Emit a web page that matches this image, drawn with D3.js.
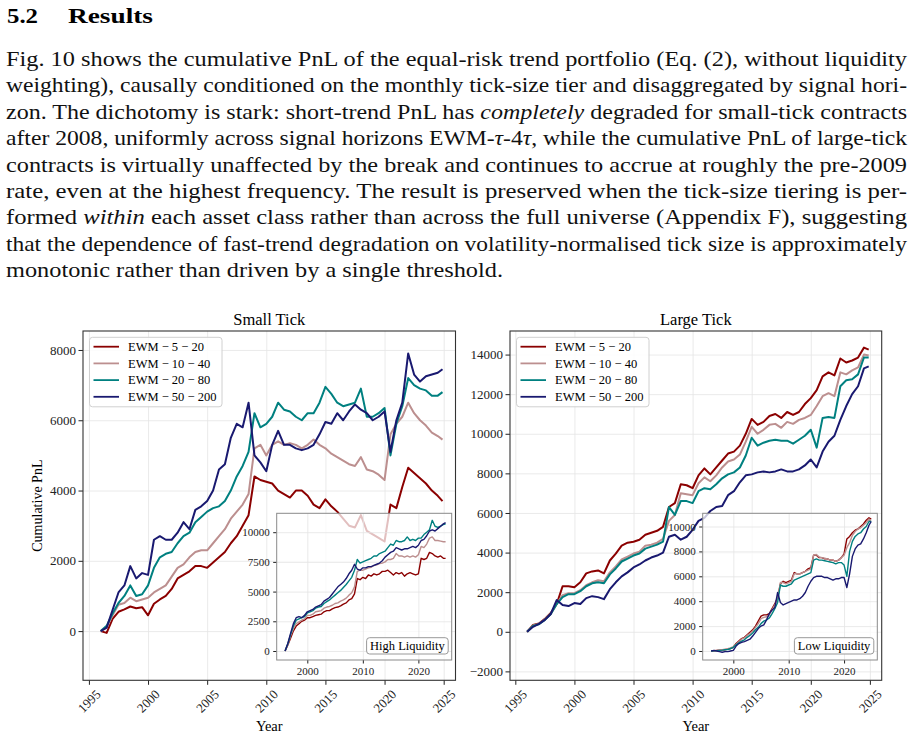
<!DOCTYPE html>
<html>
<head>
<meta charset="utf-8">
<script src="https://cdn.jsdelivr.net/npm/d3@7"></script>
<style>
  body { margin: 0; background: #fff; }
  svg { display: block; }
  .grid line { stroke: #e4e4e4; stroke-width: 0.8; }
  .grid .domain { display: none; }
</style>
</head>
<body>
<div id="page"></div>
<script>
// half-yearly sampling of the cumulative PnL curves
var years = [1996, 1996.5, 1997, 1997.5, 1998, 1998.5, 1999, 1999.5, 2000, 2000.5,
  2001, 2001.5, 2002, 2002.5, 2003, 2003.5, 2004, 2004.5, 2005, 2005.5,
  2006, 2006.5, 2007, 2007.5, 2008, 2008.5, 2009, 2009.5, 2010, 2010.5,
  2011, 2011.5, 2012, 2012.5, 2013, 2013.5, 2014, 2014.5, 2015, 2015.5,
  2016, 2016.5, 2017, 2017.5, 2018, 2018.5, 2019, 2019.5, 2020, 2020.5,
  2021, 2021.5, 2022, 2022.5, 2023, 2023.5, 2024, 2024.5, 2024.9];

// Small Tick (main panel)
var smallEwm5 = [0, -50, 350, 550, 620, 700, 650, 680, 450, 780,
  900, 1000, 1200, 1500, 1600, 1700, 1850, 1850, 1800, 1950,
  2100, 2250, 2500, 2700, 3000, 3300, 4400, 4300, 4250, 4200,
  4000, 3900, 3800, 4000, 4000, 3850, 3600, 3500, 3750, 3550,
  3400, 3200, 3000, 2950, 3300, 2850, 2750, 2650, 2550, 3600,
  3500, 4100, 4650, 4500, 4350, 4200, 4000, 3850, 3700];
var smallEwm10 = [0, 100, 450, 750, 800, 950, 850, 900, 950, 1100,
  1200, 1300, 1550, 1800, 1900, 2100, 2250, 2300, 2300, 2500,
  2700, 2900, 3200, 3400, 3600, 3900, 5200, 5300, 5000, 5300,
  5400, 5300, 5350, 5300, 5200, 5300, 5450, 5300, 5200, 5050,
  4950, 4850, 4750, 4700, 4950, 4600, 4550, 4450, 4300, 5600,
  5900, 6100, 6500, 6200, 6000, 5850, 5650, 5550, 5450];
var smallEwm20 = [0, 150, 500, 800, 1000, 1300, 1000, 1050, 1300, 1800,
  2100, 2200, 2250, 2500, 2700, 2800, 3100, 3250, 3400, 3500,
  3550, 3700, 4000, 4400, 4700, 5100, 6200, 5800, 5900, 6100,
  6500, 6300, 6250, 6100, 6000, 6200, 6200, 6500, 6950, 6750,
  6500, 6400, 6450, 6500, 6900, 6100, 6100, 6200, 6350, 5000,
  5900, 6400, 7200, 7000, 6900, 6850, 6700, 6700, 6800];
var smallEwm50 = [0, 100, 600, 1100, 1300, 1850, 1500, 1650, 1600, 2600,
  2700, 2600, 2600, 2800, 3100, 2900, 3450, 3550, 3700, 4000,
  4600, 4750, 5500, 5900, 5800, 6500, 5000, 4800, 4550, 5300,
  5700, 5300, 5300, 5200, 5150, 5200, 5300, 5600, 5950, 5900,
  6200, 6000, 6250, 6450, 6300, 6200, 6000, 6100, 6250, 5100,
  6000, 6500, 7900, 7300, 7100, 7250, 7300, 7350, 7450];

// Large Tick (main panel)
var largeEwm5 = [0, 350, 420, 650, 950, 1400, 2300, 2300, 2250, 2500,
  2950, 3050, 3100, 2950, 3600, 3950, 4350, 4500, 4550, 4650,
  4900, 5000, 5100, 5300, 6300, 6500, 7450, 7400, 7250, 7900,
  8250, 7950, 8300, 8650, 9000, 9100, 9400, 10000, 10750, 10450,
  10600, 10900, 11000, 10800, 11100, 10950, 11100, 11500, 11800, 12200,
  12900, 13100, 12950, 13800, 13600, 13700, 13850, 14350, 14250];
var largeEwm10 = [0, 320, 400, 620, 900, 1400, 1850, 1950, 1950, 2100,
  2350, 2500, 2600, 2550, 3000, 3300, 3650, 3800, 3950, 4050,
  4350, 4400, 4500, 4700, 5600, 5900, 7000, 6950, 6900, 7500,
  7800, 7600, 7900, 8300, 8600, 8700, 8950, 9600, 10350, 10000,
  10200, 10450, 10500, 10300, 10600, 10500, 10700, 10800, 10950, 11400,
  11900, 12050, 11900, 13100, 13000, 13200, 13350, 14000, 13950];
var largeEwm20 = [0, 300, 380, 600, 900, 1400, 1750, 1900, 1900, 2050,
  2300, 2450, 2500, 2450, 2900, 3200, 3550, 3700, 3850, 3950,
  4200, 4300, 4400, 4550, 6300, 5900, 6600, 6600, 6500, 7100,
  7250, 7200, 7450, 7750, 7950, 8050, 8300, 8900, 9800, 9400,
  9550, 9650, 9700, 9650, 9650, 9500, 9700, 9900, 10200, 9300,
  10800, 10850, 10800, 12400, 12700, 12750, 13000, 13850, 13850];
var largeEwm50 = [0, 250, 400, 600, 900, 1600, 1350, 1300, 1450, 1400,
  1700, 1800, 1750, 1650, 2150, 2500, 2800, 3000, 3250, 3400,
  3600, 3750, 3850, 4000, 4800, 4900, 4650, 4800, 5150, 5600,
  5750, 6100, 6300, 6350, 6900, 7100, 7550, 7900, 7950, 8050,
  8100, 8050, 8100, 8200, 8100, 8100, 8200, 8400, 8700, 8300,
  9100, 9600, 9900, 10700, 11400, 12000, 12400, 13300, 13400];

// High Liquidity (inset, small tick)
var highEwm5 = [0, 500, 1100, 1700, 2100, 2300, 2500, 2600, 2800, 2800,
  2900, 3000, 3050, 3100, 3300, 3400, 3400, 3550, 3650, 3700,
  3800, 3950, 4050, 4300, 4400, 4800, 6100, 6000, 6200, 6100,
  6400, 6300, 6500, 6400, 6500, 6700, 6700, 6800, 6600, 6400,
  6600, 6500, 6600, 6300, 6500, 6600, 6500, 6400, 6500, 7800,
  7700, 7800, 8300, 8200, 8000, 7900, 8000, 7800, 7800];
var highEwm10 = [0, 550, 1300, 1900, 2300, 2450, 2600, 2700, 3000, 3000,
  3100, 3300, 3350, 3400, 3600, 3700, 3750, 3850, 4000, 4050,
  4200, 4300, 4450, 4700, 4900, 5400, 6700, 6800, 6800, 6900,
  7000, 7050, 7200, 7250, 7350, 7400, 7500, 7700, 7700, 7800,
  8200, 8000, 8000, 7900, 8000, 7900, 8000, 7900, 8100, 8800,
  8700, 9000, 9500, 9600, 9300, 9300, 9250, 9200, 9200];
var highEwm20 = [0, 600, 1400, 2100, 2600, 2700, 2800, 2900, 3200, 3300,
  3400, 3600, 3700, 3750, 4000, 4150, 4300, 4500, 4700, 4900,
  5100, 5350, 5600, 5900, 6200, 6800, 7700, 7400, 7500, 7600,
  7700, 7800, 8000, 8000, 8200, 8300, 8400, 8700, 9000, 8900,
  9300, 9200, 9200, 9300, 9600, 9300, 9400, 9300, 9500, 9500,
  9800, 10000, 10200, 11000, 10500, 10400, 10500, 10650, 10700];
var highEwm50 = [0, 650, 1500, 2300, 2800, 2900, 2800, 3000, 3300, 3400,
  3500, 3700, 3800, 3900, 4200, 4350, 4500, 4800, 5100, 5400,
  5600, 5800, 6100, 6500, 6800, 7300, 6900, 6800, 7000, 7000,
  7100, 7100, 7200, 7300, 7400, 7600, 7900, 8100, 8300, 8400,
  8700, 8600, 8500, 8600, 8600, 8700, 8800, 8700, 8900, 9300,
  9400, 9700, 10100, 10200, 10100, 10300, 10500, 10700, 10800];

// Low Liquidity (inset, large tick)
var lowEwm5 = [0, 20, 40, 60, 80, 100, 150, 200, 300, 600,
  800, 1000, 1100, 1300, 1500, 1700, 2000, 2400, 2800, 2900,
  2900, 3000, 3400, 3800, 4300, 5400, 5600, 5500, 5600, 5700,
  6300, 6200, 6200, 6300, 6400, 6600, 6700, 7700, 7700, 7500,
  7500, 7400, 7400, 7300, 7300, 7200, 7300, 7500, 7800, 9000,
  9200, 9500, 9700, 9800, 10000, 10200, 10500, 10700, 10600];
var lowEwm10 = [0, 30, 50, 80, 100, 150, 180, 250, 350, 550,
  750, 950, 1050, 1250, 1400, 1600, 1900, 2200, 2600, 2700,
  2750, 2900, 3300, 3700, 4200, 5500, 5500, 5400, 5500, 5600,
  6200, 6200, 6200, 6300, 6400, 6500, 6600, 7700, 7750, 7550,
  7500, 7450, 7400, 7300, 7300, 7200, 7300, 7500, 7700, 8300,
  8700, 9300, 9600, 9800, 9900, 10100, 10300, 10600, 10500];
var lowEwm20 = [0, 20, 30, 50, 70, 100, 120, 200, 300, 500,
  650, 800, 900, 1100, 1250, 1450, 1700, 1900, 2200, 2400,
  2500, 2650, 3000, 3400, 3900, 5300, 5200, 5200, 5300, 5400,
  5700, 5800, 5900, 6000, 6100, 6200, 6300, 7300, 7400, 7300,
  7300, 7250, 7200, 7150, 7100, 7000, 7100, 7100, 6900, 6000,
  8000, 8800, 9200, 9400, 9500, 9800, 10000, 10400, 10400];
var lowEwm50 = [0, 50, 0, -50, -100, -50, -50, 0, 50, 400,
  600, 700, 750, 850, 950, 1200, 1500, 1800, 2000, 2100,
  2500, 3000, 3300, 3500, 4700, 3900, 3700, 3800, 3900, 4000,
  4100, 4100, 4200, 4400, 4700, 5200, 5600, 5900, 6000, 6000,
  6000, 5900, 5900, 5800, 5700, 5800, 5800, 5900, 5900, 5100,
  6200, 7600, 8200, 8500, 8600, 9000, 9500, 10100, 10400];

var seriesLabels = ['EWM \u2212 5 \u2212 20', 'EWM \u2212 10 \u2212 40', 'EWM \u2212 20 \u2212 80', 'EWM \u2212 50 \u2212 200'];
var seriesColors = ['#8b0000', '#bc8f8f', '#008080', '#191970'];

// tick labels
var yearTicks = [1995, 2000, 2005, 2010, 2015, 2020, 2025];
var insetYearTicks = [2000, 2010, 2020];
var smallTicks = [0, 2000, 4000, 6000, 8000];
var largeTicks = [-2000, 0, 2000, 4000, 6000, 8000, 10000, 12000, 14000];
var highLiqTicks = [0, 2500, 5000, 7500, 10000];
var lowLiqTicks = [0, 2000, 4000, 6000, 8000, 10000];

// section text
var paraLines = [
  [['Fig. 10 shows the cumulative PnL of the equal-risk trend portfolio (Eq. (2), without liquidity', 0]],
  [['weighting), causally conditioned on the monthly tick-size tier and disaggregated by signal hori-', 0]],
  [['zon. The dichotomy is stark: short-trend PnL has ', 0], ['completely', 1], [' degraded for small-tick contracts', 0]],
  [['after 2008, uniformly across signal horizons EWM-', 0], ['\u03c4', 1], ['-4', 0], ['\u03c4', 1], [', while the cumulative PnL of large-tick', 0]],
  [['contracts is virtually unaffected by the break and continues to accrue at roughly the pre-2009', 0]],
  [['rate, even at the highest frequency.  The result is preserved when the tick-size tiering is per-', 0]],
  [['formed ', 0], ['within', 1], [' each asset class rather than across the full universe (Appendix F), suggesting', 0]],
  [['that the dependence of fast-trend degradation on volatility-normalised tick size is approximately', 0]],
  [['monotonic rather than driven by a single threshold.', 0]]
];

var serif = '"Liberation Serif", "DejaVu Serif", serif';

var svg = d3.select('#page')
  .append('svg')
    .attr('width', 914)
    .attr('height', 738)
    .attr('font-family', serif);

// heading
svg.append('text').text('5.2')
  .attr('x', 7).attr('y', 22.7)
  .attr('font-size', 20.5).attr('font-weight', 'bold')
  .attr('textLength', 31).attr('lengthAdjust', 'spacingAndGlyphs');
svg.append('text').text('Results')
  .attr('x', 68).attr('y', 22.7)
  .attr('font-size', 20.5).attr('font-weight', 'bold')
  .attr('textLength', 85).attr('lengthAdjust', 'spacingAndGlyphs');

// justified paragraph
paraLines.forEach(function(line, i) {
  var t = svg.append('text')
    .attr('x', 6)
    .attr('y', 66 + i * 26.4)
    .attr('font-size', 21)
    .attr('fill', '#111');
  line.forEach(function(seg) {
    t.append('tspan').text(seg[0]).attr('font-style', seg[1] ? 'italic' : null);
  });
  t.attr('textLength', i < paraLines.length - 1 ? 901 : 497)
    .attr('lengthAdjust', 'spacingAndGlyphs');
});

function styleAxis(sel, size) {
  sel.attr('font-family', serif).attr('font-size', size).attr('color', '#222');
  sel.select('.domain').remove();
}

// main panel
function drawMain(cfg) {
  var x = d3.scaleLinear().domain(cfg.xDomain).range([cfg.left, cfg.right]);
  var y = d3.scaleLinear().domain(cfg.yDomain).range([cfg.bottom, cfg.top]);
  var w = cfg.right - cfg.left;
  var h = cfg.bottom - cfg.top;
  var g = svg.append('g');

  // grid
  g.append('g').attr('class', 'grid')
    .attr('transform', 'translate(0,' + cfg.bottom + ')')
    .call(d3.axisBottom(x).tickValues(yearTicks).tickSize(-h).tickFormat(''));
  g.append('g').attr('class', 'grid')
    .attr('transform', 'translate(' + cfg.left + ',0)')
    .call(d3.axisLeft(y).tickValues(cfg.yTicks).tickSize(-w).tickFormat(''));

  // one line per signal horizon
  var line = d3.line()
    .x(function(d, i) { return x(years[i]); })
    .y(function(d) { return y(d); });
  g.selectAll('.pnl')
    .data(cfg.series)
    .enter()
    .append('path')
      .attr('class', 'pnl')
      .attr('d', line)
      .attr('fill', 'none')
      .attr('stroke', function(d, i) { return seriesColors[i]; })
      .attr('stroke-width', 2)
      .attr('stroke-linejoin', 'round');

  // axes
  var xAxis = g.append('g')
    .attr('transform', 'translate(0,' + cfg.bottom + ')')
    .call(d3.axisBottom(x).tickValues(yearTicks).tickSize(4.5).tickFormat(d3.format('d')));
  styleAxis(xAxis, 13);
  xAxis.selectAll('text')
    .attr('y', 0)
    .attr('dy', '0.32em')
    .attr('text-anchor', 'middle')
    .attr('transform', 'translate(0,21) rotate(-45)');

  var yAxis = g.append('g')
    .attr('transform', 'translate(' + cfg.left + ',0)')
    .call(d3.axisLeft(y).tickValues(cfg.yTicks).tickSize(4.5).tickPadding(2.5).tickFormat(d3.format('d')));
  styleAxis(yAxis, 13);

  g.append('rect')
    .attr('x', cfg.left).attr('y', cfg.top)
    .attr('width', w).attr('height', h)
    .attr('fill', 'none').attr('stroke', '#333').attr('stroke-width', 1.1);

  // title and axis labels
  g.append('text').text(cfg.title)
    .attr('x', (cfg.left + cfg.right) / 2).attr('y', 325)
    .attr('text-anchor', 'middle').attr('font-size', 16.5);
  g.append('text').text('Year')
    .attr('x', (cfg.left + cfg.right) / 2).attr('y', 731)
    .attr('text-anchor', 'middle').attr('font-size', 14.5);
  if (cfg.yLabel) {
    g.append('text').text(cfg.yLabel)
      .attr('transform', 'translate(42,' + ((cfg.top + cfg.bottom) / 2) + ') rotate(-90)')
      .attr('text-anchor', 'middle').attr('font-size', 14);
  }

  // legend
  var lx = cfg.left + 6.5;
  var legend = g.append('g');
  legend.append('rect')
    .attr('x', lx).attr('y', 337.3)
    .attr('width', 132.5).attr('height', 69.5)
    .attr('rx', 3)
    .attr('fill', '#fff').attr('fill-opacity', 0.85)
    .attr('stroke', '#d0d0d0');
  var entry = legend.selectAll('.entry')
    .data(seriesLabels)
    .enter()
    .append('g')
      .attr('transform', function(d, i) { return 'translate(' + lx + ',' + (346.7 + i * 16.7) + ')'; });
  entry.append('line')
    .attr('x1', 4).attr('x2', 29.5)
    .attr('stroke', function(d, i) { return seriesColors[i]; })
    .attr('stroke-width', 1.8);
  entry.append('text').text(function(d) { return d; })
    .attr('x', 38.5).attr('dy', '0.35em')
    .attr('font-size', 12.5);
}

// inset panel
function drawInset(cfg) {
  var x = d3.scaleLinear().domain(cfg.xDomain).range([cfg.left, cfg.right]);
  var y = d3.scaleLinear().domain(cfg.yDomain).range([cfg.bottom, cfg.top]);
  var w = cfg.right - cfg.left;
  var h = cfg.bottom - cfg.top;
  var g = svg.append('g');

  g.append('rect')
    .attr('x', cfg.left).attr('y', cfg.top)
    .attr('width', w).attr('height', h)
    .attr('fill', '#fff').attr('fill-opacity', 0.75);

  g.append('g').attr('class', 'grid')
    .attr('transform', 'translate(0,' + cfg.bottom + ')')
    .call(d3.axisBottom(x).tickValues(insetYearTicks).tickSize(-h).tickFormat(''));
  g.append('g').attr('class', 'grid')
    .attr('transform', 'translate(' + cfg.left + ',0)')
    .call(d3.axisLeft(y).tickValues(cfg.yTicks).tickSize(-w).tickFormat(''));

  var line = d3.line()
    .x(function(d, i) { return x(years[i]); })
    .y(function(d) { return y(d); });
  g.selectAll('.pnl')
    .data(cfg.series)
    .enter()
    .append('path')
      .attr('class', 'pnl')
      .attr('d', line)
      .attr('fill', 'none')
      .attr('stroke', function(d, i) { return seriesColors[i]; })
      .attr('stroke-width', 1.4)
      .attr('stroke-linejoin', 'round');

  var xAxis = g.append('g')
    .attr('transform', 'translate(0,' + cfg.bottom + ')')
    .call(d3.axisBottom(x).tickValues(insetYearTicks).tickSize(3.5).tickPadding(4).tickFormat(d3.format('d')));
  styleAxis(xAxis, 11);
  var yAxis = g.append('g')
    .attr('transform', 'translate(' + cfg.left + ',0)')
    .call(d3.axisLeft(y).tickValues(cfg.yTicks).tickSize(3.5).tickPadding(3.5).tickFormat(d3.format('d')));
  styleAxis(yAxis, 11);

  g.append('rect')
    .attr('x', cfg.left).attr('y', cfg.top)
    .attr('width', w).attr('height', h)
    .attr('fill', 'none').attr('stroke', '#8a8a8a').attr('stroke-width', 1);

  // liquidity tag
  g.append('rect')
    .attr('x', cfg.right - 3.5 - cfg.tagWidth).attr('y', 637.7)
    .attr('width', cfg.tagWidth).attr('height', 16.3)
    .attr('rx', 3)
    .attr('fill', '#fff').attr('stroke', '#999');
  g.append('text').text(cfg.tag)
    .attr('x', cfg.right - 3.5 - cfg.tagWidth / 2).attr('y', 650)
    .attr('text-anchor', 'middle').attr('font-size', 12.5);
}

drawMain({
  left: 83, right: 455.5, top: 331, bottom: 680.3,
  xDomain: [1994.5, 2026.0], yDomain: [-1400, 8540],
  yTicks: smallTicks,
  series: [smallEwm5, smallEwm10, smallEwm20, smallEwm50],
  title: 'Small Tick', yLabel: 'Cumulative PnL'
});
drawInset({
  left: 276.7, right: 451.7, top: 513.3, bottom: 660,
  xDomain: [1994.49, 2026.0], yDomain: [-758, 11590],
  yTicks: highLiqTicks,
  series: [highEwm5, highEwm10, highEwm20, highEwm50],
  tag: 'High Liquidity', tagWidth: 81.6
});

drawMain({
  left: 510, right: 881.7, top: 331, bottom: 680.3,
  xDomain: [1994.55, 2026.0], yDomain: [-2450, 15190],
  yTicks: largeTicks,
  series: [largeEwm5, largeEwm10, largeEwm20, largeEwm50],
  title: 'Large Tick', yLabel: null
});
drawInset({
  left: 702.7, right: 877.3, top: 513.3, bottom: 660,
  xDomain: [1994.47, 2026.0], yDomain: [-723, 11060],
  yTicks: lowLiqTicks,
  series: [lowEwm5, lowEwm10, lowEwm20, lowEwm50],
  tag: 'Low Liquidity', tagWidth: 79.4
});
</script>
</body>
</html>
